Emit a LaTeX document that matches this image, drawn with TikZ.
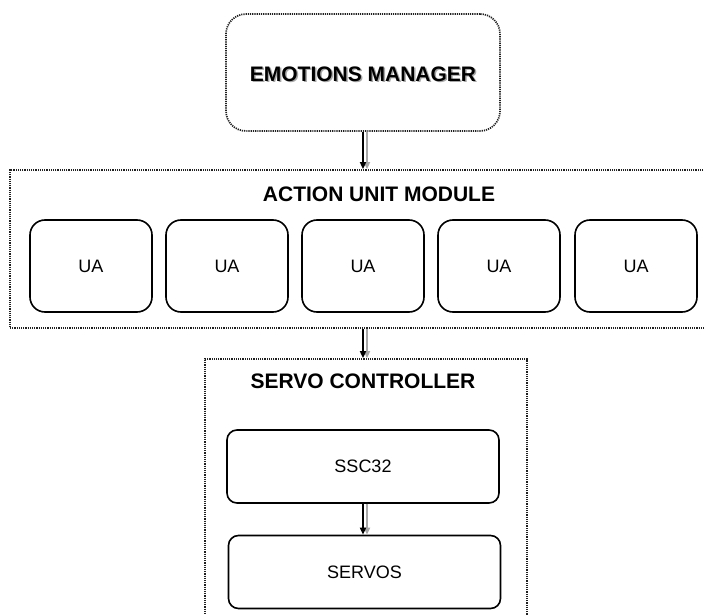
\documentclass[tikz,border=0pt]{standalone}
\usepackage{fontspec}
\setmainfont{Liberation Sans}
\usetikzlibrary{arrows.meta,positioning}
\definecolor{ink}{HTML}{000000}
\definecolor{dots}{HTML}{202020}
\definecolor{shade}{HTML}{A8A8A8}

\begin{document}
\begin{tikzpicture}[
  x=1pt, y=-1pt,
  module/.style={draw=dots, dash pattern=on 1.2pt off 1pt, line width=1.7pt, fill=white},
  title/.style={font=\fontsize{21}{24}\selectfont\bfseries, text=ink},
  ubox/.style={draw=ink, line width=1.6pt, rounded corners=15pt, fill=white, minimum width=122pt, minimum height=92pt, font=\fontsize{18}{20}\selectfont},
  sbox/.style={draw=ink, line width=1.6pt, rounded corners=10pt, fill=white, minimum width=272pt, minimum height=73pt, font=\fontsize{18}{20}\selectfont},
  arrow/.style={-{Triangle[length=7pt,width=6pt]}, line width=1.6pt, draw=ink},
  sarrow/.style={-{Triangle[length=7pt,width=6pt]}, line width=1.6pt, draw=shade, fill=shade},
]
\useasboundingbox (0,0) rectangle (704,615);
\clip (0,0) rectangle (704,615);

% emotions manager
\node[module, rounded corners=20pt, minimum width=274pt, minimum height=117pt] (em) at (363,72.5) {};
\node[title, text=shade] at (364.5,75.5) {EMOTIONS MANAGER};
\node[title] (emt) at (363,74) {EMOTIONS MANAGER};

% action unit module
\node[module, minimum width=712pt, minimum height=158pt] (aum) at (366,249) {};
\node[title] (aumt) at (379,194) {ACTION UNIT MODULE};
\node[ubox] (ua1) at (91,266) {UA};
\node[ubox] (ua2) at (227,266) {UA};
\node[ubox] (ua3) at (363,266) {UA};
\node[ubox] (ua4) at (499,266) {UA};
\node[ubox] (ua5) at (636,266) {UA};

% servo controller
\node[module, minimum width=322pt, minimum height=290pt] (sc) at (366,504) {};
\node[title] (sct) at (363,381) {SERVO CONTROLLER};
\node[sbox] (ssc) at (363,466.5) {SSC32};
\node[sbox] (servos) at (364.5,572) {SERVOS};

% links
\draw[sarrow] ([xshift=4pt]em.south) -- ([xshift=4pt]em.south |- aum.north);
\draw[arrow] (em.south) -- (em.south |- aum.north);
\draw[sarrow] ([xshift=4pt]em.south |- aum.south) -- ([xshift=4pt]em.south |- sc.north);
\draw[arrow] (em.south |- aum.south) -- (em.south |- sc.north);
\draw[sarrow] ([xshift=4pt]ssc.south) -- ([xshift=4pt]ssc.south |- servos.north);
\draw[arrow] (ssc.south) -- (ssc.south |- servos.north);
\end{tikzpicture}
\end{document}
